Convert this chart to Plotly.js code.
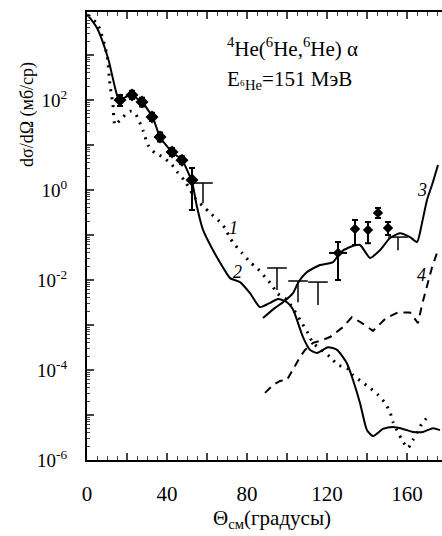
<!DOCTYPE html>
<html><head><meta charset="utf-8">
<script src="https://cdn.plot.ly/plotly-3.0.1.min.js"></script>
<style>html,body{margin:0;padding:0;background:#fff}#chart{width:442px;height:536px}</style>
</head><body><div id="chart"></div>
<script>
// Curve 1 (dotted)
const c1x = [0.5,5.5,10,11.5,13,14,17.5,21.5,24,28,30.5,34,38,42.5,45.5,49,54,58,61.5,65.5,69,71.5,74,77.5,81.5,85,89,92.5,95,100,107.5,110.5,113,121.5,125.5,130,133,137.5,141.5,145.5,149,151.5,153,157.5,160.5,163,168,171.5];
const c1y = [7740,4650,1000,215,77,28,40,56,51,21,10,6.6,5.4,3.6,2.4,1.58,0.66,0.44,0.31,0.215,0.143,0.086,0.06,0.04,0.025,0.0185,0.0117,0.0077,0.0051,0.0036,0.0011,0.00066,0.0004,0.000195,0.000129,0.000111,7.7e-5,5.4e-5,4.0e-5,2.8e-5,1.85e-5,1.17e-5,7.0e-6,2.8e-6,1.85e-6,2.8e-6,7.0e-6,1.0e-5];
// Curve 2 (solid, falling)
const c2x = [0,5,10.5,15,16.5,21.5,27.5,33,36.5,42.5,47.5,52.5,55,58,63,68,71.5,76.5,81.5,86.5,91.5,95.5,100,103,108,111.5,115,120.5,125,130,133,136.5,140,143,148,153,158,163,168,173,176.5];
const c2y = [8100,4000,860,129,100,129,90,40,15,7.0,4.6,1.5,0.42,0.13,0.046,0.019,0.011,0.009,0.0051,0.0025,0.0031,0.0038,0.0032,0.0022,0.00054,0.00028,0.00024,0.00032,0.00028,0.00014,6.0e-5,1.85e-5,4.6e-6,3.4e-6,4.9e-6,5.4e-6,4.9e-6,4.2e-6,4.2e-6,5.1e-6,4.6e-6];
// Curve 3 (solid, rising)
const c3x = [88,94,98,103,105.5,110,116.5,123,126.5,131.5,136.5,141.5,146.5,151.5,156.5,161.5,165,167.5,170,172.5,175.5];
const c3y = [0.00143,0.0024,0.0032,0.0051,0.0086,0.015,0.0215,0.025,0.04,0.054,0.06,0.031,0.046,0.086,0.11,0.09,0.07,0.185,0.6,1.29,3.6];
// Curve 4 (dashed)
const c4x = [89,93,96.5,100,104,106.5,109,113,117.5,121.5,128,132.5,137.5,143,149.5,155.5,161.5,165.5,167.5,170,172.5,175];
const c4y = [3.1e-5,4.6e-5,5.7e-5,6.0e-5,0.000123,0.000195,0.00028,0.0004,0.00046,0.00054,0.0009,0.0015,0.0011,0.00074,0.00143,0.0019,0.0019,0.0011,0.0028,0.007,0.019,0.04];
// Experimental points (filled)
const dLx = [16.5,22.5,27.5,32.5,36.5,42.5,47.5,52.5];
const dLy = [100,129,90,42,15,7.0,4.6,1.67];
const dLtop = [129,160,112,52,19,8.6,5.6,3.1];
const dLbot = [74,105,72,34,12,5.7,3.8,0.36];
const dRx = [125.5,134,140.5,145.5,150.5];
const dRy = [0.04,0.136,0.129,0.31,0.143];
const dRtop = [0.07,0.215,0.195,0.4,0.195];
const dRbot = [0.01,0.06,0.066,0.24,0.1];
const dRxerr = [4.5,0,0,0,0];
// Open "T" points (upper value, lower value)
const tX = [58,95,105.5,115.5,155.5];
const tTop = [1.43,0.0185,0.0095,0.009,0.09];
const tBot = [0.51,0.006,0.0032,0.0028,0.046];
// Axis ticks
const yTickVals = [1e-6,1e-5,1e-4,1e-3,1e-2,1e-1,1,10,100,1000];
const yTickText = ['10<sup>-6</sup>','','10<sup>-4</sup>','','10<sup>-2</sup>','','10<sup>0</sup>','','10<sup>2</sup>',''];
const xTickVals = [0,20,40,60,80,100,120,140,160];
const xTickText = ['0','','40','','80','','120','','160'];

const F = 'Liberation Serif, DejaVu Serif, serif';
const diff = (a,b)=>a.map((v,i)=>v-b[i]);

const traces = [
  {x:c1x,y:c1y,mode:'lines',line:{color:'#000',width:3,dash:'2px,6px',shape:'spline',smoothing:0.6},hoverinfo:'skip'},
  {x:c2x,y:c2y,mode:'lines',line:{color:'#000',width:2,shape:'spline',smoothing:0.6},hoverinfo:'skip'},
  {x:c3x,y:c3y,mode:'lines',line:{color:'#000',width:2,shape:'spline',smoothing:0.6},hoverinfo:'skip'},
  {x:c4x,y:c4y,mode:'lines',line:{color:'#000',width:2,dash:'8px,6px'},hoverinfo:'skip'},
  {x:dLx,y:dLy,mode:'markers',marker:{symbol:'diamond',size:10,color:'#000'},
   error_y:{type:'data',symmetric:false,array:diff(dLtop,dLy),arrayminus:diff(dLy,dLbot),color:'#000',thickness:2,width:3}},
  {x:dRx,y:dRy,mode:'markers',marker:{symbol:'diamond',size:8,color:'#000'},
   error_y:{type:'data',symmetric:false,array:diff(dRtop,dRy),arrayminus:diff(dRy,dRbot),color:'#000',thickness:2,width:3},
   error_x:{type:'data',array:dRxerr,color:'#000',thickness:2,width:0}},
  {x:tX,y:tTop,mode:'markers',marker:{symbol:'line-ew',size:14,line:{color:'#000',width:1.5}},
   error_y:{type:'data',symmetric:false,array:tX.map(()=>0),arrayminus:diff(tTop,tBot),color:'#000',thickness:1.5,width:0}}
];

const ann = (x,y,t,opt)=>Object.assign({x:x,y:y,xref:'x',yref:'y',text:t,showarrow:false,font:{family:F,size:18,color:'#000'}},opt||{});

const layout = {
  width:442,height:536,
  margin:{l:87,r:0,t:12,b:76},
  paper_bgcolor:'#fff',plot_bgcolor:'#fff',
  showlegend:false,
  font:{family:F,color:'#000',size:18},
  xaxis:{range:[0,177.5],tickvals:xTickVals,ticktext:xTickText,ticks:'inside',ticklen:7,tickwidth:1.5,
    showline:true,linewidth:2,linecolor:'#000',mirror:'ticks',showgrid:false,zeroline:false,ticklabelstandoff:14,
    minor:{ticks:'inside',dtick:5,ticklen:4,tickwidth:1},tickfont:{family:F,size:21}},
  yaxis:{type:'log',range:[-6,3.956],tickvals:yTickVals,ticktext:yTickText,ticks:'inside',ticklen:7,tickwidth:1.5,
    showline:true,linewidth:2,linecolor:'#000',mirror:false,showgrid:false,zeroline:false,ticklabelstandoff:14,
    minor:{ticks:'inside',ticklen:3,tickwidth:1,dtick:'D1'},tickfont:{family:F,size:19}},
  annotations:[
    ann(69,3.178,'<sup>4</sup>He(<sup>6</sup>He,<sup>6</sup>He) α',{xanchor:'left',font:{family:F,size:21,color:'#000'}}),
    ann(69,2.44,'E<sub>⁶He</sub>=151 МэВ',{xanchor:'left',font:{family:F,size:21,color:'#000'}}),
    ann(73,-0.844,'<i>1</i>',{}),
    ann(75,-1.822,'<i>2</i>',{}),
    ann(167.5,0.0,'<i>3</i>',{}),
    ann(167,-1.889,'<i>4</i>',{}),
    {xref:'paper',yref:'paper',x:-0.169,y:0.77,xanchor:'center',yanchor:'middle',text:'dσ/dΩ (мб/ср)',textangle:-90,showarrow:false,font:{family:F,size:18,color:'#000'}},
    {xref:'x',yref:'paper',x:92.5,y:-0.132,xanchor:'center',yanchor:'middle',text:'Θ<sub>см</sub>(градусы)',showarrow:false,font:{family:F,size:21,color:'#000'}}
  ]
};
Plotly.newPlot('chart',traces,layout,{staticPlot:true,displayModeBar:false});
</script></body></html>
